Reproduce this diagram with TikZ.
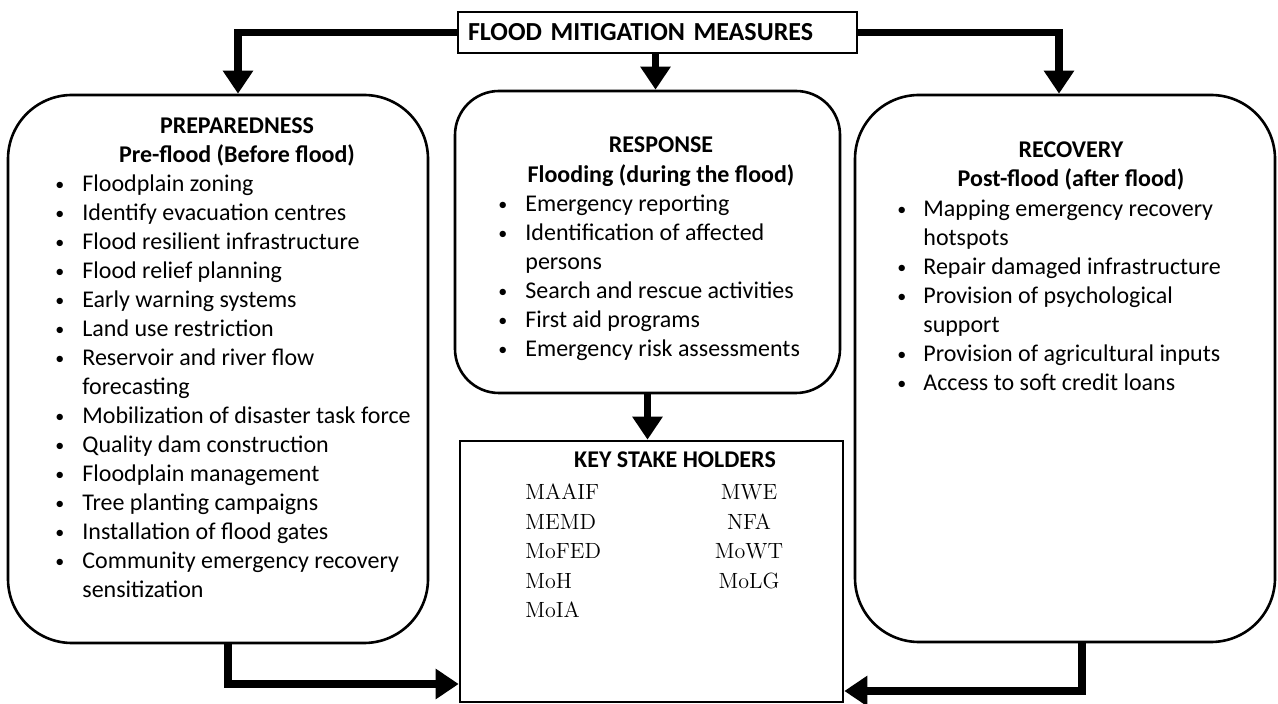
\documentclass[tikz,border=0pt]{standalone}
\usepackage{fontspec}
\newfontfamily\calibri{Carlito}
\newcommand{\bul}{\raisebox{0.6pt}{\fontsize{9}{9}\selectfont\textbullet}}
\usetikzlibrary{arrows.meta}

\begin{document}
\begin{tikzpicture}[x=0.5pt,y=-0.5pt]
        \tikzstyle{every node}+=[inner sep=0pt]
        \tikzstyle{roundbox}=[draw=black, line width=1.3pt, rounded corners=32pt]
        \tikzstyle{plainbox}=[draw=black, line width=1.3pt]
        \tikzstyle{head}=[anchor=base, font=\calibri\bfseries\fontsize{12}{14.5}\selectfont]
        \tikzstyle{items}=[anchor=north west, font=\calibri\fontsize{12}{14.5}\selectfont]
        \tikzstyle{names}=[font=\fontsize{11}{14.75}\selectfont]
        \tikzstyle{flowarrow}=[black, line width=3.8pt, -{Triangle[length=11.5pt,width=14.5pt]}]
        \useasboundingbox (0,0) rectangle (1278,704);
        % boxes
        \node [plainbox, minimum width=199.5pt, minimum height=20.5pt, text width=189.5pt, align=left, font=\calibri\bfseries\fontsize{13}{15}\selectfont] (title) at (657.5,32.5) {FLOOD MITIGATION MEASURES};
        \node [roundbox, minimum width=210pt, minimum height=274pt] (prep) at (218,369) {};
        \node [roundbox, rounded corners=22pt, minimum width=192.5pt, minimum height=151pt] (resp) at (647.5,242) {};
        \node [roundbox, minimum width=210pt, minimum height=273.5pt] (rec) at (1065,368.5) {};
        \node [plainbox, minimum width=191.5pt, minimum height=130.5pt] (key) at (651.5,571.5) {};
        % headings
        \node [head] (preptitle) at (237,134) {PREPAREDNESS};
        \node [head] (prepsub) at (237,163) {Pre-flood (Before flood)};
        \node [head] (resptitle) at (661,153) {RESPONSE};
        \node [head] (respsub) at (661,183) {Flooding (during the flood)};
        \node [head] (rectitle) at (1071,158) {RECOVERY};
        \node [head] (recsub) at (1071,187) {Post-flood (after flood)};
        \node [head] (keytitle) at (675,468) {KEY STAKE HOLDERS};
        % lists
        \node [items] (preplist) at (55,170.7) {\begin{tabular}{@{}p{13.5pt}@{}l@{}}
        \bul & Floodplain zoning\\
        \bul & Identify evacuation centres\\
        \bul & Flood resilient infrastructure\\
        \bul & Flood relief planning\\
        \bul & Early warning systems\\
        \bul & Land use restriction\\
        \bul & Reservoir and river flow\\
             & forecasting\\
        \bul & Mobilization of disaster task force\\
        \bul & Quality dam construction\\
        \bul & Floodplain management\\
        \bul & Tree planting campaigns\\
        \bul & Installation of flood gates\\
        \bul & Community emergency recovery\\
             & sensitization
        \end{tabular}};
        \node [items] (resplist) at (498,190.7) {\begin{tabular}{@{}p{13.5pt}@{}l@{}}
        \bul & Emergency reporting\\
        \bul & Identification of affected\\
             & persons\\
        \bul & Search and rescue activities\\
        \bul & First aid programs\\
        \bul & Emergency risk assessments
        \end{tabular}};
        \node [items] (reclist) at (897,195.7) {\begin{tabular}{@{}p{13pt}@{}l@{}}
        \bul & Mapping emergency recovery\\
             & hotspots\\
        \bul & Repair damaged infrastructure\\
        \bul & Provision of psychological\\
             & support\\
        \bul & Provision of agricultural inputs\\
        \bul & Access to soft credit loans
        \end{tabular}};
        % stake holders
        \node [names, anchor=north west] (keyleft) at (525,478.85) {\begin{tabular}{@{}l@{}}
        MAAIF\\ MEMD\\ MoFED\\ MoH\\ MoIA
        \end{tabular}};
        \node [names, anchor=north] (keyright) at (749,478.85) {\begin{tabular}{@{}c@{}}
        MWE\\ NFA\\ MoWT\\ MoLG
        \end{tabular}};
        % arrows
        \draw [flowarrow] (title.west) -| ([xshift=10pt]prep.north);
        \draw [flowarrow] ([xshift=-1pt]title.south) -- ([xshift=-1pt]title.south |- resp.north);
        \draw [flowarrow] (title.east) -| ([xshift=-3pt]rec.north);
        \draw [flowarrow] (resp.south) -- (resp.south |- key.north);
        \draw [flowarrow] ([xshift=5pt]prep.south) |- ([yshift=-56.25pt]key.west);
        \draw [flowarrow] ([xshift=8.5pt]rec.south) |- ([yshift=-59.75pt]key.east);
\end{tikzpicture}
\end{document}
